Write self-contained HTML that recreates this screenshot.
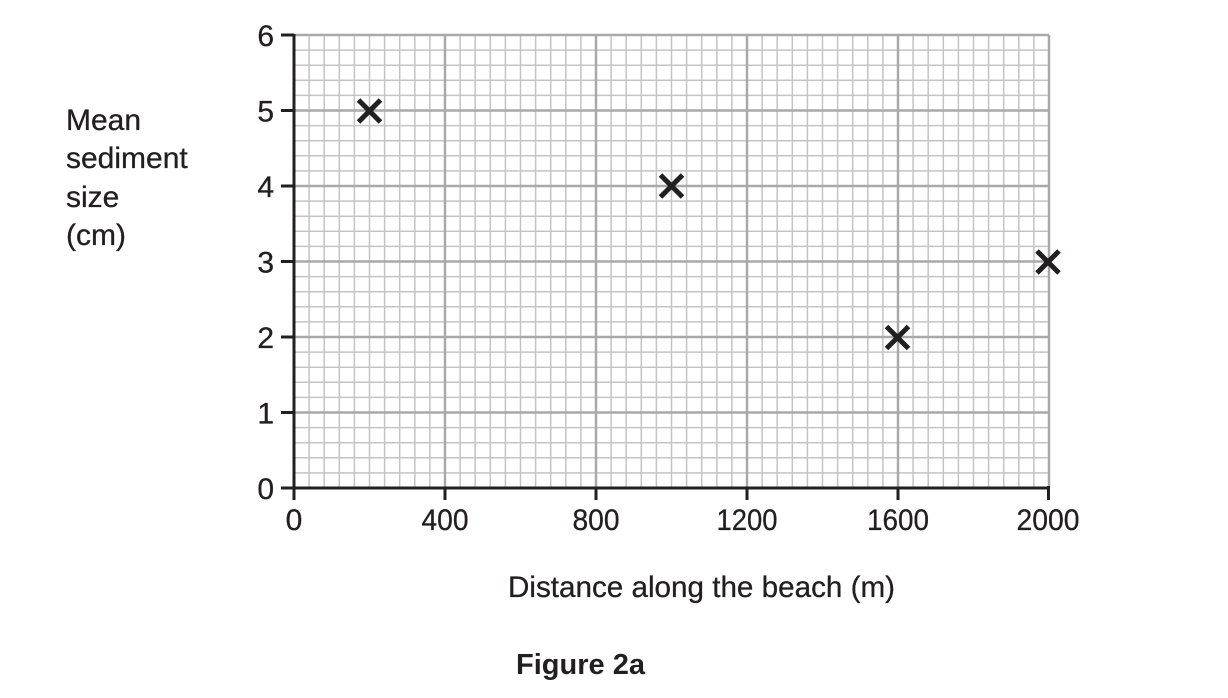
<!DOCTYPE html>
<html>
<head>
<meta charset="utf-8">
<style>
html,body{margin:0;padding:0;background:#fff;}
svg{display:block;}
text{font-family:"Liberation Sans",sans-serif;fill:#231f20;}
</style>
</head>
<body>
<svg width="1228" height="698" viewBox="0 0 1228 698" xmlns="http://www.w3.org/2000/svg">
<g id="minor" stroke="#c4c4c6" stroke-width="1.5" fill="none">
</g>
<g id="major" stroke="#a9a9ab" stroke-width="2.5" fill="none">
</g>
<script>
(function(){
  var ns="http://www.w3.org/2000/svg";
  var minor=document.getElementById("minor"), major=document.getElementById("major");
  var x0=294,x1=1049,y0=488,y1=35;
  for(var i=0;i<=50;i++){
    var x=x0+i*(x1-x0)/50;
    var l=document.createElementNS(ns,"line");
    l.setAttribute("x1",x);l.setAttribute("x2",x);l.setAttribute("y1",y1);l.setAttribute("y2",y0);
    (i%10==0?major:minor).appendChild(l);
  }
  for(var j=0;j<=30;j++){
    var y=y0-j*(y0-y1)/30;
    var l=document.createElementNS(ns,"line");
    l.setAttribute("x1",x0);l.setAttribute("x2",x1);l.setAttribute("y1",y);l.setAttribute("y2",y);
    (j%5==0?major:minor).appendChild(l);
  }
})();
</script>
<!-- axes -->
<g stroke="#231f20" stroke-width="3" fill="none">
  <line x1="294" y1="34" x2="294" y2="500"/>
  <line x1="281" y1="488" x2="1050" y2="488"/>
  <line x1="281" y1="35" x2="294" y2="35"/>
  <line x1="281" y1="110.5" x2="294" y2="110.5"/>
  <line x1="281" y1="186" x2="294" y2="186"/>
  <line x1="281" y1="261.5" x2="294" y2="261.5"/>
  <line x1="281" y1="337" x2="294" y2="337"/>
  <line x1="281" y1="412.5" x2="294" y2="412.5"/>
  <line x1="445" y1="488" x2="445" y2="500"/>
  <line x1="596" y1="488" x2="596" y2="500"/>
  <line x1="747" y1="488" x2="747" y2="500"/>
  <line x1="898" y1="488" x2="898" y2="500"/>
  <line x1="1048.5" y1="486" x2="1048.5" y2="500"/>
</g>
<!-- y tick labels -->
<g font-size="30" text-anchor="end" stroke="#231f20" stroke-width="0.3">
  <text x="274" y="46">6</text>
  <text x="274" y="121.5">5</text>
  <text x="274" y="197">4</text>
  <text x="274" y="272.5">3</text>
  <text x="274" y="348">2</text>
  <text x="274" y="423.5">1</text>
  <text x="274" y="499">0</text>
</g>
<!-- x tick labels -->
<g font-size="30" text-anchor="middle" stroke="#231f20" stroke-width="0.3">
  <text x="294" y="530">0</text>
  <text x="445" y="530" textLength="47" lengthAdjust="spacingAndGlyphs">400</text>
  <text x="596" y="530" textLength="47" lengthAdjust="spacingAndGlyphs">800</text>
  <text x="747" y="530" textLength="61" lengthAdjust="spacingAndGlyphs">1200</text>
  <text x="898" y="530" textLength="62" lengthAdjust="spacingAndGlyphs">1600</text>
  <text x="1048" y="530" textLength="63" lengthAdjust="spacingAndGlyphs">2000</text>
</g>
<!-- y title -->
<g font-size="30" stroke="#231f20" stroke-width="0.3">
  <text x="66" y="130">Mean</text>
  <text x="66" y="168">sediment</text>
  <text x="66" y="207">size</text>
  <text x="66" y="245">(cm)</text>
</g>
<!-- x title -->
<text x="508" y="597" font-size="30" stroke="#231f20" stroke-width="0.3" textLength="387" lengthAdjust="spacingAndGlyphs">Distance along the beach (m)</text>
<!-- figure caption -->
<text x="516" y="674" font-size="29" font-weight="bold" textLength="129" lengthAdjust="spacingAndGlyphs">Figure 2a</text>
<!-- markers -->
<g stroke="#231f20" stroke-width="5" fill="none">
  <path d="M358.5 100 L380.5 122 M380.5 100 L358.5 122"/>
  <path d="M660.5 175 L682.5 197 M682.5 175 L660.5 197"/>
  <path d="M886.5 326.5 L908.5 348.5 M908.5 326.5 L886.5 348.5"/>
  <path d="M1037 251 L1059 273 M1059 251 L1037 273"/>
</g>
</svg>
</body>
</html>
